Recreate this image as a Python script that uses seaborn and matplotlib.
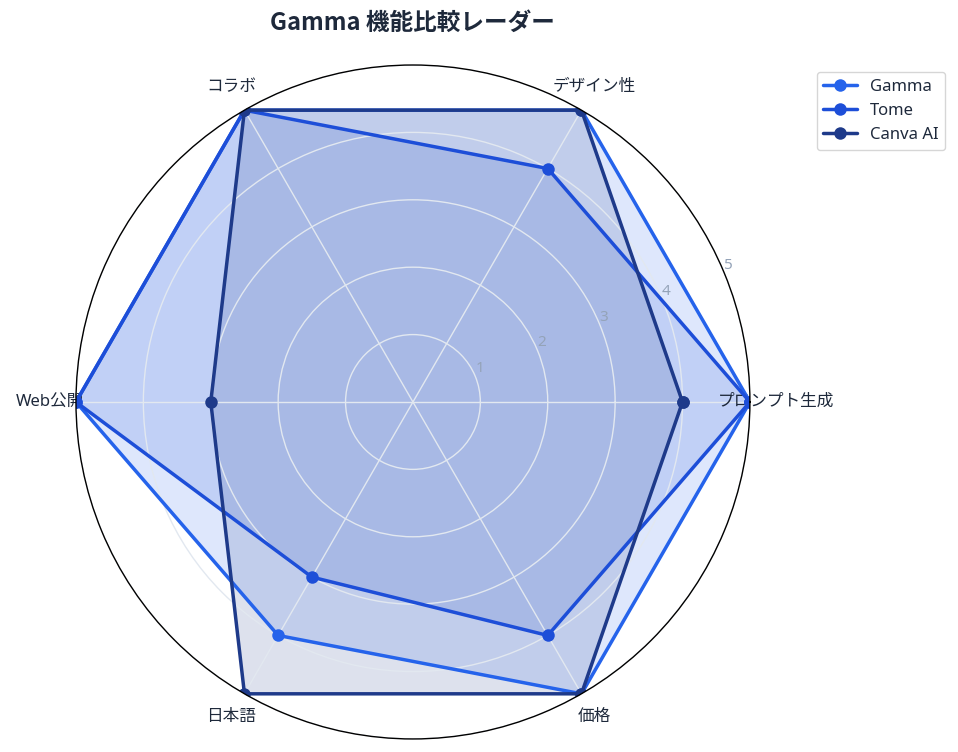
import numpy as np
import pandas as pd
import matplotlib
matplotlib.use("Agg")
import matplotlib.pyplot as plt
import seaborn as sns

categories = ["プロンプト生成", "デザイン性", "コラボ", "Web公開", "日本語", "価格"]
series_names = ["Gamma", "Tome", "Canva AI"]
gamma = [5, 5, 5, 5, 4, 5]
tome = [5, 4, 5, 5, 3, 4]
canva = [4, 5, 5, 3, 5, 5]
colors = ["#2563eb", "#1d4ed8", "#1e3a8a"]
rticks = [1, 2, 3, 4, 5]

sns.set_theme(style="white")
plt.rcParams["font.family"] = ["Noto Sans", "Noto Sans CJK JP", "DejaVu Sans"]

fig = plt.figure(figsize=(9.58, 7.52), dpi=100)
ax = fig.add_axes([0.0793, 0.0173, 0.7035, 0.8963], projection="polar")

n = len(categories)
angles = np.linspace(0, 2 * np.pi, n, endpoint=False)

for name, vals, col in zip(series_names, [gamma, tome, canva], colors):
    a = np.concatenate([angles, angles[:1]])
    v = list(vals) + [vals[0]]
    df = pd.DataFrame({"angle": a, "value": v})
    sns.lineplot(data=df, x="angle", y="value", ax=ax, sort=False, color=col,
                 linewidth=2.5, marker="o", markersize=9, markeredgewidth=0,
                 label=name, estimator=None, zorder=3)
    ax.fill(a, v, color=col, alpha=0.15, zorder=1)

ax.set_axisbelow(False)
ax.set_ylim(0, 5)
ax.set_yticks(rticks)
ax.set_yticklabels([str(t) for t in rticks], color="#94a3b8", fontsize=11)
ax.set_rlabel_position(22.5)
ax.set_xticks(angles)
ax.set_xticklabels(categories, fontsize=12, color="#1e293b")
ax.tick_params(axis="x", pad=6)
ax.set_xlabel("")
ax.set_ylabel("")
ax.grid(True, color="#e2e8f0", linewidth=1)
for gl in ax.xaxis.get_gridlines() + ax.yaxis.get_gridlines():
    gl.set_zorder(2)
ax.spines["polar"].set_color("black")
ax.spines["polar"].set_linewidth(1)
ax.spines["polar"].set_zorder(4)

fig.suptitle("Gamma 機能比較レーダー", fontsize=17, fontweight="bold",
             color="#1e293b", x=0.431, y=0.985,
             family=["Noto Sans CJK JP", "DejaVu Sans"])

leg = ax.legend(loc="upper right", fontsize=12, frameon=True, borderaxespad=0)
leg.set_bbox_to_anchor((945 / 958, 1 - 72 / 752), transform=fig.transFigure)
leg.get_frame().set_edgecolor("#cccccc")
for t in leg.get_texts():
    t.set_color("#1e293b")

fig.savefig("out.png", dpi=100)
